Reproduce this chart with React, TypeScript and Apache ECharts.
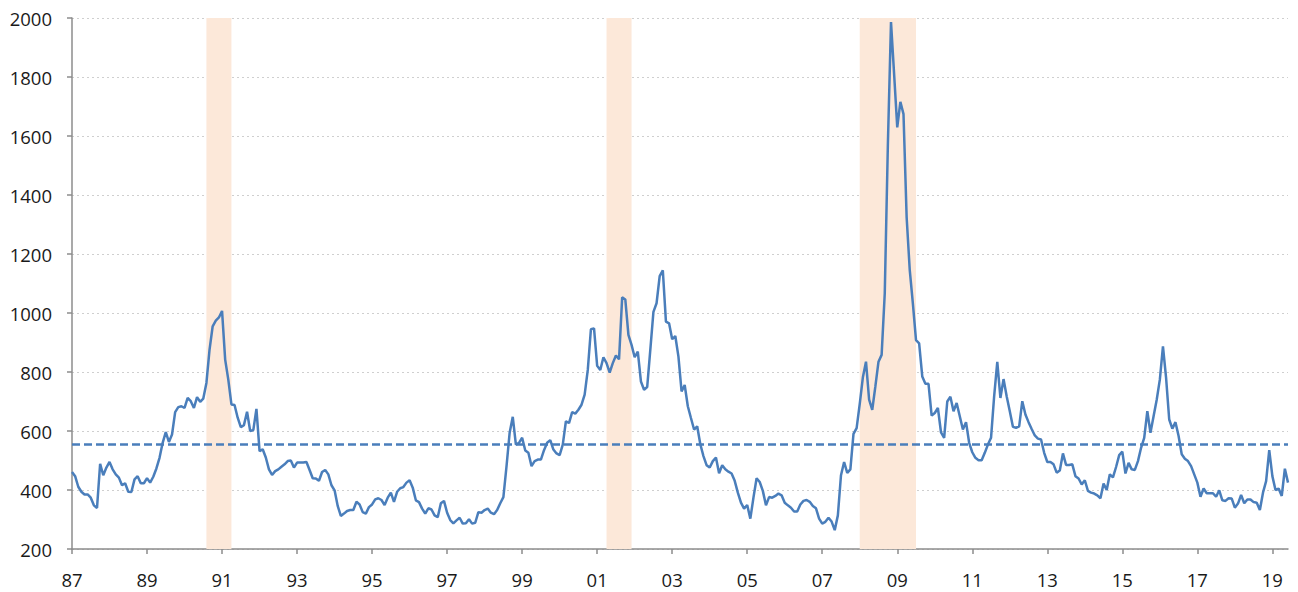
import React, { useEffect, useRef } from "react";
import * as echarts from "echarts";

const START_YEAR = 1987;

// Monthly values, Jan 1987 – Jun 2019
const values: number[] = [
  // 1987
  461, 447, 411, 394, 385, 385, 374, 348, 339, 489, 450, 476,
  // 1988
  495, 470, 453, 442, 416, 423, 394, 393, 436, 447, 423, 423,
  // 1989
  440, 425, 445, 473, 509, 560, 596, 563, 588, 664, 681, 684,
  // 1990
  678, 712, 701, 678, 715, 699, 710, 763, 876, 955, 974, 985,
  // 1991
  1007, 842, 774, 690, 688, 645, 613, 620, 665, 600, 603, 675,
  // 1992
  532, 538, 510, 470, 451, 464, 470, 479, 487, 498, 500, 476,
  // 1993
  493, 493, 493, 495, 468, 440, 439, 431, 461, 468, 453, 416,
  // 1994
  399, 346, 312, 320, 329, 332, 332, 360, 351, 325, 320, 342,
  // 1995
  351, 368, 372, 366, 349, 374, 391, 360, 394, 406, 410, 425,
  // 1996
  433, 408, 365, 359, 337, 320, 338, 334, 314, 308, 355, 363,
  // 1997
  323, 298, 287, 297, 306, 286, 287, 301, 286, 289, 325, 323,
  // 1998
  332, 337, 323, 318, 332, 355, 376, 480, 594, 648, 554, 560,
  // 1999
  577, 534, 526, 481, 498, 503, 503, 535, 560, 569, 537, 524,
  // 2000
  518, 554, 633, 627, 664, 659, 672, 689, 723, 807, 945, 948,
  // 2001
  821, 807, 850, 830, 798, 830, 856, 843, 1053, 1046, 926, 892,
  // 2002
  850, 869, 768, 740, 749, 875, 1004, 1033, 1125, 1145, 971, 965,
  // 2003
  911, 922, 852, 734, 756, 684, 644, 605, 616, 555, 515, 484,
  // 2004
  476, 498, 510, 457, 484, 470, 462, 456, 431, 391, 357, 337,
  // 2005
  349, 303, 374, 440, 427, 397, 348, 376, 374, 380, 388, 382,
  // 2006
  357, 348, 340, 327, 327, 351, 363, 366, 360, 346, 338, 303,
  // 2007
  286, 292, 306, 293, 264, 314, 450, 495, 458, 470, 590, 610,
  // 2008
  692, 782, 835, 706, 672, 751, 835, 858, 1066, 1572, 1986, 1809,
  // 2009
  1629, 1716, 1674, 1325, 1145, 1032, 908, 897, 785, 760, 760, 652,
  // 2010
  661, 678, 595, 577, 700, 716, 667, 695, 650, 605, 630, 560,
  // 2011
  528, 509, 501, 501, 526, 554, 577, 718, 834, 712, 776, 718,
  // 2012
  667, 614, 611, 616, 701, 656, 630, 607, 585, 574, 571, 526,
  // 2013
  495, 495, 487, 459, 466, 524, 485, 485, 487, 447, 439, 419,
  // 2014
  433, 397, 391, 388, 382, 372, 422, 400, 453, 443, 478, 518,
  // 2015
  530, 456, 492, 470, 468, 498, 543, 577, 667, 594, 650, 706,
  // 2016
  774, 887, 780, 639, 608, 630, 583, 521, 506, 498, 481, 453,
  // 2017
  425, 377, 405, 389, 389, 389, 377, 399, 365, 363, 372, 371,
  // 2018
  340, 354, 383, 355, 368, 368, 359, 357, 332, 391, 430, 535,
  // 2019
  447, 400, 405, 380, 472, 425,
];

const AVERAGE_LEVEL = 555;

const recessionStarts = ["1990-08", "2001-04", "2008-01"];
const recessionEnds = ["1991-04", "2001-12", "2009-07"];

const categories: string[] = values.map((_, i) => {
  const y = START_YEAR + Math.floor(i / 12);
  const m = (i % 12) + 1;
  return `${y}-${m < 10 ? "0" + m : m}`;
});

const FONT = '"Open Sans", "Liberation Sans", sans-serif';
const AXIS_COLOR = "#8c8c8c";
const LINE_COLOR = "#4a7ebb";

export default function App() {
  const ref = useRef<HTMLDivElement>(null);

  useEffect(() => {
    if (!ref.current) return;
    const chart = echarts.init(ref.current, undefined, { renderer: "svg" });
    const tickEvery = (i: number) => i % 24 === 0;
    chart.setOption({
      animation: false,
      grid: { left: 72, right: 10, top: 18, bottom: 43, containLabel: false },
      xAxis: {
        type: "category",
        data: categories,
        boundaryGap: false,
        axisLine: { lineStyle: { color: AXIS_COLOR, width: 1.5 } },
        axisTick: {
          show: true,
          interval: tickEvery,
          length: 5,
          lineStyle: { color: AXIS_COLOR, width: 1.5 },
        },
        axisLabel: {
          interval: tickEvery,
          formatter: (v: string) => v.slice(2, 4),
          fontSize: 18.5,
          color: "#1a1a1a",
          fontFamily: FONT,
          margin: 21,
        },
        splitLine: { show: false },
      },
      yAxis: {
        type: "value",
        min: 200,
        max: 2000,
        interval: 200,
        axisLine: { show: true, lineStyle: { color: AXIS_COLOR, width: 1.5 } },
        axisTick: { show: true, length: 5, lineStyle: { color: AXIS_COLOR, width: 1.5 } },
        axisLabel: {
          formatter: (v: number) => String(v),
          fontSize: 18.5,
          color: "#1a1a1a",
          fontFamily: FONT,
          margin: 20,
        },
        splitLine: {
          show: true,
          lineStyle: { color: "#cfcfcf", width: 1, type: [2, 3] },
        },
      },
      series: [
        {
          type: "line",
          data: values,
          showSymbol: false,
          symbol: "none",
          lineStyle: { color: LINE_COLOR, width: 2.5 },
          z: 3,
          markArea: {
            silent: true,
            itemStyle: { color: "#fce8d9" },
            data: recessionStarts.map((s, i) => [{ xAxis: s }, { xAxis: recessionEnds[i] }]),
          },
          markLine: {
            silent: true,
            symbol: "none",
            label: { show: false },
            lineStyle: { color: LINE_COLOR, width: 2.5, type: [8, 4] },
            data: [{ yAxis: AVERAGE_LEVEL }],
          },
        },
      ],
    });
    return () => chart.dispose();
  }, []);

  return (
    <div
      ref={ref}
      style={{ position: "absolute", left: 0, top: 0, width: 1298, height: 592, background: "#fff" }}
    />
  );
}
